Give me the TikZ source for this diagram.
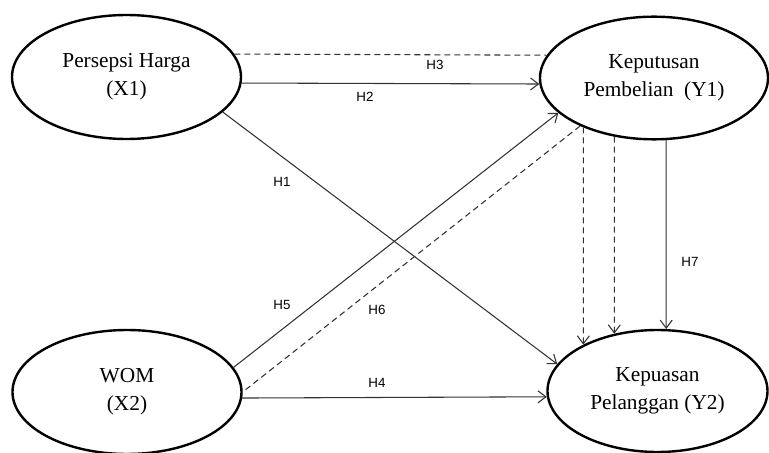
\documentclass[tikz,border=0pt]{standalone}
\usepackage{fontspec}
\setmainfont{Liberation Serif}
\newfontfamily\hlabelfont{Liberation Sans}
\usetikzlibrary{arrows.meta,shapes.geometric}

\tikzset{every picture/.style={line width=0.75pt}}
\tikzset{
  varbox/.style={draw, ellipse, line width=1.8pt, inner sep=0pt, align=center, font=\fontsize{16}{21}\selectfont},
  pathline/.style={draw=black!80, line width=0.8pt},
  patharrow/.style={pathline, -{Straight Barb[length=6pt,width=9pt,line width=0.8pt]}},
  pathdash/.style={dash pattern=on 4.5pt off 3pt},
  hlabel/.style={font=\hlabelfont\fontsize{10}{12}\selectfont, inner sep=1pt}
}

\begin{document}
\begin{tikzpicture}[x=0.75pt,y=0.75pt,yscale=-1,xscale=1]
\useasboundingbox (0,0) rectangle (769,453);

% Shape: Ellipse
\node (X1) [varbox, minimum width=171.75pt, minimum height=93pt] at (126.5,77) {Persepsi Harga\\(X1)};
% Shape: Ellipse
\node (Y1) [varbox, minimum width=171pt, minimum height=92pt] at (654,78) {Keputusan\\Pembelian~ (Y1)};
% Shape: Ellipse
\node (X2) [varbox, minimum width=171.75pt, minimum height=93pt] at (127,392) {WOM\\(X2)};
% Shape: Ellipse
\node (Y2) [varbox, minimum width=165pt, minimum height=91.5pt] at (657.5,391) {Kepuasan\\Pelanggan (Y2)};

% Straight Lines
\draw [pathline, pathdash] (X1.12) -- (Y1.168) ;
% Straight Lines
\draw [patharrow] (X1.-3) -- (Y1.183) ;
% Straight Lines
\draw [patharrow] (X1.-20) -- (Y2.165) ;
% Straight Lines
\draw [patharrow] (X2.13) -- (Y1.200) ;
% Straight Lines
\draw [pathline, pathdash] (Y1.213) -- (X2.0) ;
% Straight Lines
\draw [patharrow] (X2.-3) -- (Y2.183) ;
% Straight Lines
\draw [patharrow, pathdash] (Y1.215) -- (Y2.148) ;
% Straight Lines
\draw [patharrow, pathdash] (Y1.236) -- (Y2.127) ;
% Straight Lines
\draw [patharrow] (Y1.281) -- (Y2.82) ;

% Text Node
\node (lblH1) [hlabel] at (282,182) {H1};
% Text Node
\node (lblH2) [hlabel] at (365,97) {H2};
% Text Node
\node (lblH3) [hlabel] at (435,65) {H3};
% Text Node
\node (lblH4) [hlabel] at (377,383) {H4};
% Text Node
\node (lblH5) [hlabel] at (282,305) {H5};
% Text Node
\node (lblH6) [hlabel] at (377,310) {H6};
% Text Node
\node (lblH7) [hlabel] at (690,262) {H7};

\end{tikzpicture}
\end{document}
